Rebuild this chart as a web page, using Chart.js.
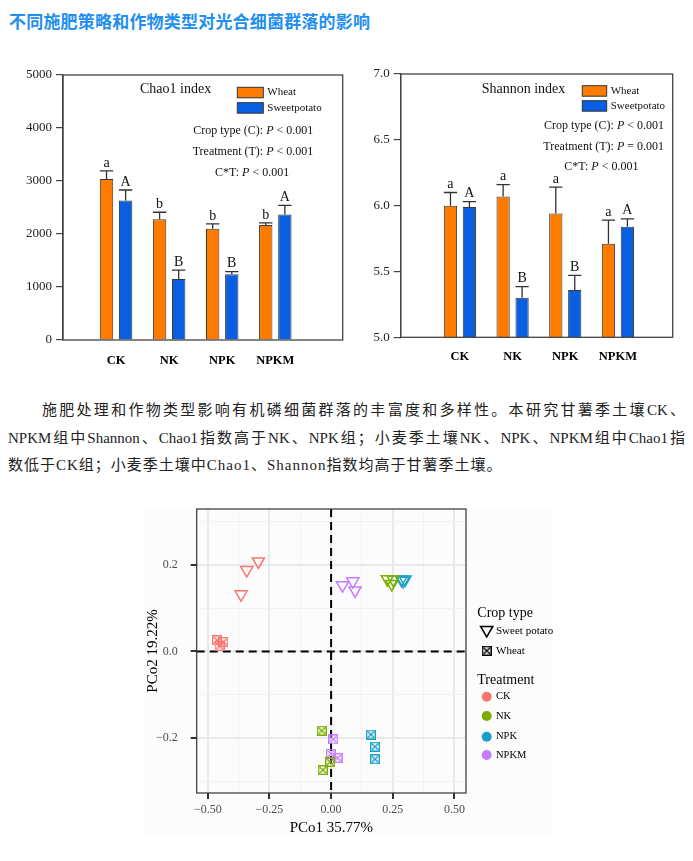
<!DOCTYPE html>
<html>
<head>
<meta charset="utf-8">
<script src="https://cdn.jsdelivr.net/npm/chart.js@4.4.0/dist/chart.umd.min.js"></script>
<style>
  body { margin: 0; background: #fff; }
  #page { position: relative; width: 693px; height: 861px; overflow: hidden; }
  canvas { position: absolute; }
  .title { position: absolute; left: 9px; top: 8px; line-height: 24px; font: bold 17px "Noto Sans CJK SC"; color: #1f8ff0; letter-spacing: 0.2px; white-space: nowrap; }
  .para { position: absolute; left: 8px; width: 677px; top: 397px; font-size: 15px; line-height: 27.5px; font-family: "Liberation Serif", "Noto Sans CJK SC"; color: #222; }
  .para div { text-align: justify; text-align-last: justify; }
  .para .l1 { text-indent: 34px; }
  .para .l3 { text-align-last: left; letter-spacing: 1px; }
  #pcoaBg { position: absolute; left: 145px; top: 508px; width: 408px; height: 328px; background: #fcfcfc; }
</style>
</head>
<body>
<div id="page">
  <div class="title">不同施肥策略和作物类型对光合细菌群落的影响</div>
  <canvas id="chao1" width="350" height="330" style="left:0;top:50px"></canvas>
  <canvas id="shannon" width="353" height="330" style="left:340px;top:50px"></canvas>
  <div class="para">
    <div class="l1">施肥处理和作物类型影响有机磷细菌群落的丰富度和多样性。本研究甘薯季土壤CK、</div>
    <div class="l2">NPKM组中Shannon、Chao1指数高于NK、NPK组；小麦季土壤NK、NPK、NPKM组中Chao1指</div>
    <div class="l3">数低于CK组；小麦季土壤中Chao1、Shannon指数均高于甘薯季土壤。</div>
  </div>
  <div id="pcoaBg"></div>
  <canvas id="pcoa" width="440" height="355" style="left:130px;top:495px"></canvas>
</div>
<script>
const SERIF = '"Liberation Serif", "Times New Roman", serif';
const ORANGE = '#ff7b00';
const BLUE = '#0a5fe0';

// bar charts
const treatments = ['CK', 'NK', 'NPK', 'NPKM'];

const chaoWheat = [3040, 2280, 2100, 2170];
const chaoWheatErr = [150, 130, 90, 40];
const chaoWheatLetters = ['a', 'b', 'b', 'b'];
const chaoSweet = [2630, 1150, 1240, 2370];
const chaoSweetErr = [200, 170, 50, 170];
const chaoSweetLetters = ['A', 'B', 'B', 'A'];

const shanWheat = [6.0, 6.07, 5.94, 5.71];
const shanWheatErr = [0.1, 0.09, 0.2, 0.18];
const shanWheatLetters = ['a', 'a', 'a', 'a'];
const shanSweet = [5.99, 5.30, 5.36, 5.84];
const shanSweetErr = [0.04, 0.085, 0.11, 0.06];
const shanSweetLetters = ['A', 'B', 'B', 'A'];

// PCoA scores
const ckSweetX = [-0.295, -0.342, -0.365];
const ckSweetY = [0.208, 0.188, 0.132];
const ckWheatX = [-0.463, -0.437, -0.452];
const ckWheatY = [0.026, 0.022, 0.012];
const nkSweetX = [0.228, 0.246, 0.252];
const nkSweetY = [0.167, 0.156, 0.166];
const nkWheatX = [-0.038, -0.034, -0.004];
const nkWheatY = [-0.183, -0.274, -0.255];
const npkSweetX = [0.285, 0.300, 0.292];
const npkSweetY = [0.166, 0.166, 0.163];
const npkWheatX = [0.161, 0.178, 0.178];
const npkWheatY = [-0.192, -0.220, -0.249];
const npkmSweetX = [0.046, 0.088, 0.097];
const npkmSweetY = [0.153, 0.162, 0.141];
const npkmWheatX = [0.009, -0.001, 0.026];
const npkmWheatY = [-0.203, -0.236, -0.246];

const xTicks = [-0.5, -0.375, -0.25, -0.125, 0, 0.125, 0.25, 0.375, 0.5];
const yTicks = [-0.3, -0.2, -0.1, 0, 0.1, 0.2, 0.3];

const colors = { CK: '#f8766d', NK: '#7cae00', NPK: '#1aa0c8', NPKM: '#c77cff' };

function frame(color, width) {
  return {
    id: 'frame',
    afterDraw(chart) {
      const { left, top, right, bottom } = chart.chartArea;
      const g = chart.ctx;
      g.save();
      g.strokeStyle = color;
      g.lineWidth = width;
      g.strokeRect(left, top, right - left, bottom - top);
      g.restore();
    }
  };
}

const errorBars = {
  id: 'errorBars',
  afterDatasetsDraw(chart) {
    const g = chart.ctx, y = chart.scales.y;
    g.save();
    chart.data.datasets.forEach((ds, i) => {
      chart.getDatasetMeta(i).data.forEach((bar, j) => {
        const top = y.getPixelForValue(ds.data[j].y + ds.err[j]);
        const half = bar.width / 2;
        g.strokeStyle = '#333';
        g.lineWidth = 1.3;
        g.beginPath();
        g.moveTo(bar.x, bar.y);
        g.lineTo(bar.x, top);
        g.moveTo(bar.x - half, top);
        g.lineTo(bar.x + half, top);
        g.stroke();
        g.fillStyle = '#111';
        g.font = '14px ' + SERIF;
        g.textAlign = 'center';
        g.textBaseline = 'bottom';
        g.fillText(ds.letters[j], bar.x, top - 1);
      });
    });
    g.restore();
  }
};

function statLine(g, parts, x, y, alignRight) {
  const fonts = parts.map(p => (p.i ? 'italic ' : '') + '12px ' + SERIF);
  let w = 0;
  parts.forEach((p, k) => { g.font = fonts[k]; w += g.measureText(p.t).width; });
  let cx = alignRight ? x - w : x;
  parts.forEach((p, k) => {
    g.font = fonts[k];
    g.fillText(p.t, cx, y);
    cx += g.measureText(p.t).width;
  });
}

function notes(n) {
  return {
    id: 'notes',
    afterDraw(chart) {
      const g = chart.ctx;
      g.save();
      g.fillStyle = '#111';
      g.textBaseline = 'middle';
      g.textAlign = 'left';
      g.font = '14px ' + SERIF;
      g.fillText(n.title, n.titleX, n.titleY);
      [[ORANGE, 'Wheat'], [BLUE, 'Sweetpotato']].forEach(([c, label], k) => {
        const by = n.boxY[k];
        g.fillStyle = c;
        g.fillRect(n.boxX, by, n.boxW, n.boxH);
        g.strokeStyle = '#333';
        g.lineWidth = 1;
        g.strokeRect(n.boxX, by, n.boxW, n.boxH);
        g.fillStyle = '#111';
        g.font = '11px ' + SERIF;
        g.fillText(label, n.boxX + n.boxW + 4, by + n.boxH / 2);
      });
      g.textAlign = 'left';
      n.stats.forEach(s => statLine(g, s.parts, s.x, s.y, s.right));
      g.restore();
    }
  };
}

function barChart(id, o) {
  new Chart(document.getElementById(id), {
    type: 'bar',
    data: {
      datasets: [
        { label: 'Wheat', data: o.wheat.map((v, i) => ({ x: i + 1, y: v })), err: o.wheatErr, letters: o.wheatLetters,
          backgroundColor: ORANGE, borderColor: '#3a3a3a', borderWidth: 1, categoryPercentage: 0.72, barPercentage: 0.7 },
        { label: 'Sweetpotato', data: o.sweet.map((v, i) => ({ x: i + 1, y: v })), err: o.sweetErr, letters: o.sweetLetters,
          backgroundColor: BLUE, borderColor: '#3a3a3a', borderWidth: 1, categoryPercentage: 0.72, barPercentage: 0.7 }
      ]
    },
    options: {
      responsive: false,
      animation: false,
      events: [],
      layout: { padding: o.pad },
      plugins: { legend: { display: false }, tooltip: { enabled: false } },
      scales: {
        x: {
          type: 'linear', min: o.xMin, max: o.xMax, offset: false,
          grid: { display: false, drawTicks: false },
          border: { display: false },
          afterBuildTicks: s => { s.ticks = treatments.map((t, i) => ({ value: i + 1 })); },
          afterFit: s => { s.height = o.xh; },
          ticks: { callback: v => treatments[v - 1], autoSkip: false, maxRotation: 0, padding: o.xPad,
                   color: '#000', font: { family: SERIF, size: 12.5, weight: 'bold' } }
        },
        y: {
          min: o.yMin, max: o.yMax,
          grid: { drawOnChartArea: false, drawTicks: true, tickLength: 7, color: '#444', lineWidth: 1.2 },
          border: { color: '#444', width: 1.3 },
          afterFit: s => { s.width = o.yw; },
          ticks: { stepSize: o.step, callback: o.fmt, padding: 4, color: '#222', font: { family: SERIF, size: 13 } }
        }
      }
    },
    plugins: [errorBars, frame('#444', 1.3), notes(o.notes)]
  });
}

const pLess = [{ t: 'P', i: true }, { t: ' < 0.001' }];
const pEq = [{ t: 'P', i: true }, { t: ' = 0.001' }];

barChart('chao1', {
  wheat: chaoWheat, wheatErr: chaoWheatErr, wheatLetters: chaoWheatLetters,
  sweet: chaoSweet, sweetErr: chaoSweetErr, sweetLetters: chaoSweetLetters,
  xMin: 0, xMax: 5.27, yMin: 0, yMax: 5000, step: 1000, fmt: v => String(v),
  pad: { top: 25, right: 7.3, bottom: 0, left: 0 }, yw: 63, xh: 40, xPad: 13,
  notes: {
    title: 'Chao1 index', titleX: 140, titleY: 39.5,
    boxX: 237.3, boxY: [37.3, 52.7], boxW: 26, boxH: 10.5,
    stats: [
      { parts: [{ t: 'Crop type (C): ' }].concat(pLess), x: 313.3, y: 80.7, right: true },
      { parts: [{ t: 'Treatment (T): ' }].concat(pLess), x: 313.3, y: 102, right: true },
      { parts: [{ t: 'C*T: ' }].concat(pLess), x: 215, y: 123.3, right: false }
    ]
  }
});

barChart('shannon', {
  wheat: shanWheat, wheatErr: shanWheatErr, wheatLetters: shanWheatLetters,
  sweet: shanSweet, sweetErr: shanSweetErr, sweetLetters: shanSweetLetters,
  xMin: -0.125, xMax: 5.04, yMin: 5, yMax: 7, step: 0.5, fmt: v => v.toFixed(1),
  pad: { top: 24, right: 20.3, bottom: 0, left: 0 }, yw: 60.7, xh: 42.7, xPad: 12,
  notes: {
    title: 'Shannon index', titleX: 141.7, titleY: 39.5,
    boxX: 242.3, boxY: [35.7, 50.7], boxW: 24.4, boxH: 10.5,
    stats: [
      { parts: [{ t: 'Crop type (C): ' }].concat(pLess), x: 324, y: 76, right: true },
      { parts: [{ t: 'Treatment (T): ' }].concat(pEq), x: 324, y: 97.3, right: true },
      { parts: [{ t: 'C*T: ' }].concat(pLess), x: 224.3, y: 117.3, right: false }
    ]
  }
});

// PCoA
function boxX(color) {
  const size = 10, lw = 1.4;
  const c = document.createElement('canvas');
  c.width = c.height = size;
  const g = c.getContext('2d');
  g.strokeStyle = color;
  g.lineWidth = lw;
  const a = lw / 2, b = size - lw / 2;
  g.strokeRect(a, a, b - a, b - a);
  g.beginPath();
  g.moveTo(a + 1.2, a + 1.2); g.lineTo(b - 1.2, b - 1.2);
  g.moveTo(b - 1.2, a + 1.2); g.lineTo(a + 1.2, b - 1.2);
  g.stroke();
  return c;
}

const zip = (xs, ys) => xs.map((x, i) => ({ x, y: ys[i] }));
const groups = [
  ['CK', ckSweetX, ckSweetY, ckWheatX, ckWheatY],
  ['NK', nkSweetX, nkSweetY, nkWheatX, nkWheatY],
  ['NPK', npkSweetX, npkSweetY, npkWheatX, npkWheatY],
  ['NPKM', npkmSweetX, npkmSweetY, npkmWheatX, npkmWheatY]
];
const pcoaSets = [];
groups.forEach(([t, sx, sy, wx, wy]) => {
  pcoaSets.push({ label: t + ' Sweet potato', data: zip(sx, sy), pointStyle: 'triangle', pointRotation: 180,
                  pointRadius: 7, pointBorderWidth: 1.5, pointBorderColor: colors[t], pointBackgroundColor: 'rgba(0,0,0,0)' });
  pcoaSets.push({ label: t + ' Wheat', data: zip(wx, wy), pointStyle: boxX(colors[t]), pointRadius: 5,
                  pointBorderColor: colors[t], pointBackgroundColor: 'rgba(0,0,0,0)' });
});

const zeroLines = {
  id: 'zeroLines',
  beforeDatasetsDraw(chart) {
    const { left, top, right, bottom } = chart.chartArea;
    const x0 = chart.scales.x.getPixelForValue(0), y0 = chart.scales.y.getPixelForValue(0);
    const g = chart.ctx;
    g.save();
    g.strokeStyle = '#000';
    g.lineWidth = 2;
    g.setLineDash([8, 5]);
    g.beginPath();
    g.moveTo(x0, top); g.lineTo(x0, bottom);
    g.moveTo(left, y0); g.lineTo(right, y0);
    g.stroke();
    g.restore();
  }
};

const pcoaLegend = {
  id: 'pcoaLegend',
  afterDraw(chart) {
    const g = chart.ctx;
    const ix = 356.7, tx = 366;
    g.save();
    g.textBaseline = 'middle';
    g.textAlign = 'left';
    g.fillStyle = '#000';
    g.font = '14px ' + SERIF;
    g.fillText('Crop type', 347.3, 118.3);
    g.fillText('Treatment', 347.3, 185.7);
    // triangle
    g.strokeStyle = '#000';
    g.lineWidth = 1.5;
    g.beginPath();
    g.moveTo(ix - 6.1, 131.5); g.lineTo(ix + 6.1, 131.5); g.lineTo(ix, 142); g.closePath();
    g.stroke();
    g.drawImage(boxX('#000'), ix - 5, 150.7);
    g.font = '11px ' + SERIF;
    g.fillText('Sweet potato', tx, 135.7);
    g.fillText('Wheat', tx, 155.7);
    [['CK', 201.7], ['NK', 221], ['NPK', 241.7], ['NPKM', 260]].forEach(([t, y]) => {
      g.fillStyle = colors[t];
      g.beginPath();
      g.arc(ix, y, 5, 0, Math.PI * 2);
      g.fill();
      g.fillStyle = '#000';
      g.font = '10.5px ' + SERIF;
      g.fillText(t, tx, y);
    });
    g.restore();
  }
};

const isMajorX = v => Math.abs(v * 4 - Math.round(v * 4)) < 1e-6;
const isMajorY = v => Math.abs(v * 5 - Math.round(v * 5)) < 1e-6;
const fmtNum = (v, d) => (v < 0 ? '\u2212' : '') + Math.abs(v).toFixed(d);

new Chart(document.getElementById('pcoa'), {
  type: 'scatter',
  data: { datasets: pcoaSets },
  options: {
    responsive: false,
    animation: false,
    events: [],
    layout: { padding: { top: 14, right: 104, bottom: 0, left: 0 } },
    plugins: { legend: { display: false }, tooltip: { enabled: false } },
    scales: {
      x: {
        min: -0.545, max: 0.547,
        afterBuildTicks: s => { s.ticks = xTicks.map(v => ({ value: v })); },
        afterFit: s => { s.height = 57; },
        grid: {
          color: c => isMajorX(c.tick.value) ? '#e9e9e9' : '#f2f2f2',
          lineWidth: c => isMajorX(c.tick.value) ? 2 : 1,
          tickColor: c => isMajorX(c.tick.value) ? '#333' : 'rgba(0,0,0,0)',
          tickLength: 6
        },
        border: { display: false },
        ticks: { autoSkip: false, maxRotation: 0, padding: 4, color: '#4d4d4d', font: { family: SERIF, size: 12 },
                 callback: v => isMajorX(v) ? fmtNum(v, 2) : '' },
        title: { display: true, text: 'PCo1 35.77%', color: '#000', font: { family: SERIF, size: 15 }, padding: { top: 0, bottom: 13 } }
      },
      y: {
        min: -0.327, max: 0.329,
        afterBuildTicks: s => { s.ticks = yTicks.map(v => ({ value: v })); },
        afterFit: s => { s.width = 66.7; s.paddingTop = 0; s.paddingBottom = 0; },
        grid: {
          color: c => isMajorY(c.tick.value) ? '#e9e9e9' : '#f2f2f2',
          lineWidth: c => isMajorY(c.tick.value) ? 2 : 1,
          tickColor: c => isMajorY(c.tick.value) ? '#333' : 'rgba(0,0,0,0)',
          tickLength: 6
        },
        border: { display: false },
        ticks: { autoSkip: false, padding: 13, color: '#4d4d4d', font: { family: SERIF, size: 12 },
                 callback: v => isMajorY(v) ? fmtNum(v, 1) : '' },
        title: { display: true, text: 'PCo2 19.22%', color: '#000', font: { family: SERIF, size: 15 }, padding: { top: 14, bottom: 0 } }
      }
    }
  },
  plugins: [zeroLines, frame('#333', 1.2), pcoaLegend]
});
</script>
</body>
</html>
